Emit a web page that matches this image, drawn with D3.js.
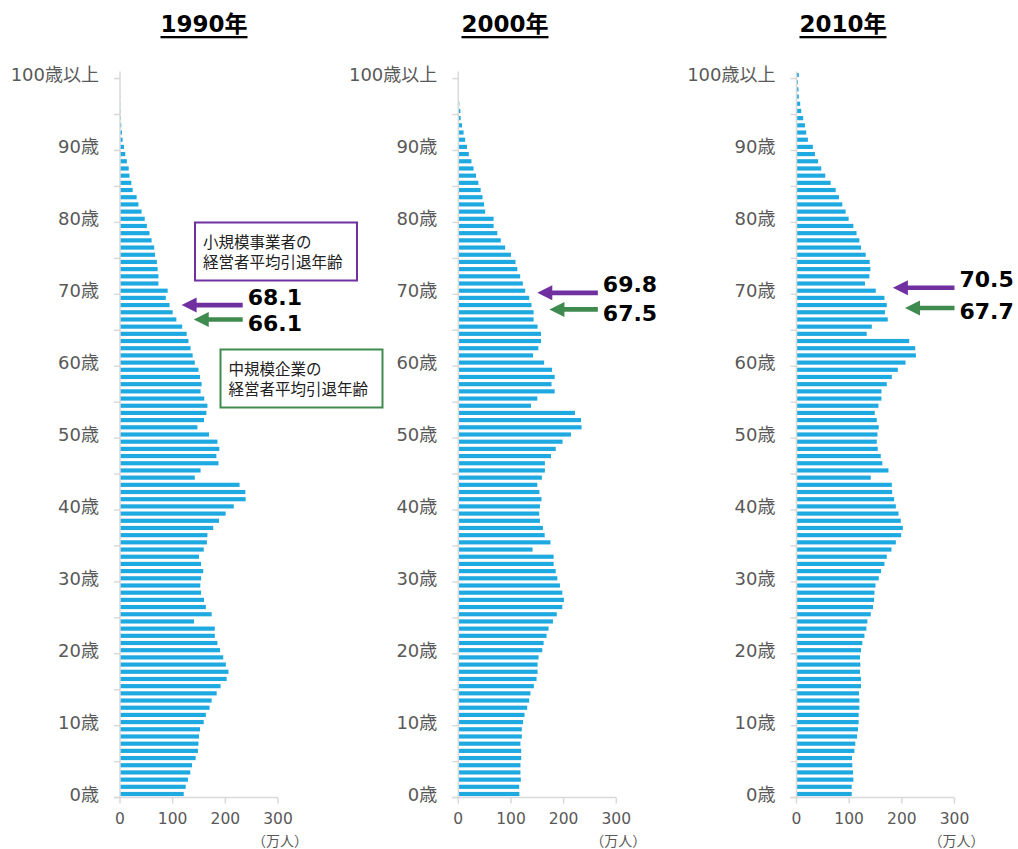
<!DOCTYPE html>
<html>
<head>
<meta charset="utf-8">
<script src="https://cdn.jsdelivr.net/npm/d3@7"></script>
<style>
  body { margin: 0; background: #fff; }
  text { font-family: "DejaVu Sans", "Noto Sans CJK JP", sans-serif; }
  .jp { font-family: "Noto Sans CJK JP", sans-serif; }
</style>
</head>
<body>
<div id="chart-container"></div>
<script>
// population by single year of age (0 .. 100+), unit: 10,000 people
const ages = d3.range(0, 101);

const pop1990 = [
  121, 124.7, 129, 133.5, 136.7, 143.7, 148, 149, 150, 152,
  159, 163, 170, 174, 183.5, 191, 202.5, 206, 201, 196,
  190, 185, 180, 180, 140.5, 174, 163, 159.5, 154, 152.5,
  154, 158, 154, 150, 159, 165, 166, 177, 188, 200.6,
  216, 238.6, 238, 227, 142, 153, 187, 183, 188.6, 185,
  169, 147, 159.5, 164, 166, 160, 153, 155, 152, 149,
  142, 138, 134, 130, 126.6, 118, 107, 100, 94, 87,
  90.5, 73, 73, 71.5, 70, 66.5, 65, 60, 56, 51,
  47, 41, 35, 31.6, 24, 21.5, 18, 16.5, 13, 10,
  7.6, 5, 3.8, 2.5, 1.5, 0.8, 0.5, 0.3, 0.2, 0.1,
  0.1
];

const pop2000 = [
  116, 115.6, 118.7, 118, 118, 119.4, 119.4, 118, 120.6, 120.6,
  123, 125.7, 130.8, 134.6, 137, 143.5, 148.6, 150.5, 150.5, 152.4,
  159.4, 162, 167.6, 171.4, 179.7, 187, 197.5, 200.6, 197.5, 193,
  188, 185, 181, 181, 141, 175, 164, 160.6, 155, 153.6,
  155, 158, 154, 150, 158.7, 164.4, 164.4, 176, 185, 198,
  214, 234, 233, 221.6, 138, 150, 183, 177, 183, 178,
  163, 142, 152, 157, 157, 150.5, 143, 143, 139, 134.6,
  127, 122.5, 117.5, 112, 108.6, 100, 89, 80.6, 74, 67,
  67, 51, 49, 46, 42.5, 38, 33.6, 29, 25, 20,
  16.5, 13, 10, 7, 4.5, 4, 2, 1, 0.6, 0.4,
  0.3
];

const pop2010 = [
  104.8, 104.8, 108, 107.3, 106, 105.4, 110, 111.7, 115, 116.8,
  118, 118, 119.4, 119.4, 118.7, 122.5, 122.5, 120.6, 121.3, 120.6,
  122.5, 125, 129, 132.7, 134.6, 141, 145.4, 147.3, 148, 150,
  156.2, 160.6, 167, 171.4, 180.3, 188.6, 198.7, 202, 198, 193.7,
  188.6, 185.4, 181.6, 181, 141, 174.6, 163, 160, 154.3, 152.4,
  153.7, 156.2, 152.4, 148.6, 155.6, 161.3, 161.3, 171.4, 181, 192.4,
  207, 226.7, 225.4, 214, 133.3, 143, 173.3, 168, 171.4, 167,
  150.5, 130, 138.4, 140.3, 139, 131.4, 122.5, 119.4, 114, 108,
  99, 93.3, 87, 80.6, 74.3, 64.8, 54.6, 47, 41, 35,
  31, 21.6, 18.4, 16, 12.7, 9, 7, 4.4, 3.8, 2.5,
  4.4
];

const years = ["1990年", "2000年", "2010年"];
const series = [pop1990, pop2000, pop2010];
// average retirement age of owners (small businesses / medium enterprises)
const smallRetire = [68.1, 69.8, 70.5];
const midRetire = [66.1, 67.5, 67.7];
const xTicks = [0, 100, 200, 300];
const ageLabelTicks = [0, 10, 20, 30, 40, 50, 60, 70, 80, 90, 100];

const W = 1018, H = 849;
const purple = "#7030a0", green = "#3f8b4f", barColor = "#1ea9e1";
const axisGray = "#d9d9d9", labelGray = "#595959";

const svg = d3.select("#chart-container").append("svg")
  .attr("width", W)
  .attr("height", H);

// panel layout
const panelX = [120, 458.3, 796.5];
const titleX = [204, 505, 843];
const plotW = 158;
const plotTop = 71.4, plotBottom = 797.6;
// arrow tip positions / shaft end, in x-axis units
const tipSmall = [117, 150, 183];
const tipMid = [140, 173, 206];
const arrowEnd = [233, 265, 300];

const yScale = d3.scaleBand()
  .domain(ages.slice().reverse())
  .range([plotTop, plotBottom])
  .paddingInner(0.42)
  .paddingOuter(0.21);

// continuous age axis for the retirement arrows
const ageScale = d3.scaleLinear().domain([-0.4, 100.6]).range([plotBottom, plotTop]);

function arrowPath(xt, xe, yc) {
  const hl = 15, hh = 7.5, sh = 2.3;
  return `M${xt},${yc} L${xt + hl},${yc - hh} L${xt + hl},${yc - sh} L${xe},${yc - sh}` +
    ` L${xe},${yc + sh} L${xt + hl},${yc + sh} L${xt + hl},${yc + hh} Z`;
}

series.forEach((values, p) => {
  const x0 = panelX[p];
  const xScale = d3.scaleLinear().domain([0, 300]).range([x0, x0 + plotW]);
  const g = svg.append("g");

  // title
  g.append("text")
    .attr("x", titleX[p])
    .attr("y", 24)
    .attr("text-anchor", "middle")
    .attr("dominant-baseline", "central")
    .style("font-size", "23px")
    .style("font-weight", "bold")
    .style("text-decoration", "underline")
    .attr("fill", "#000")
    .text(years[p]);

  // bars
  g.selectAll(".bar")
    .data(values)
    .enter()
    .append("rect")
    .attr("x", xScale(0))
    .attr("y", (d, i) => yScale(ages[i]))
    .attr("width", d => xScale(d) - xScale(0))
    .attr("height", yScale.bandwidth())
    .attr("fill", barColor);

  // y axis line + ticks every 5 years (at category boundaries)
  g.append("line")
    .attr("x1", x0).attr("x2", x0)
    .attr("y1", plotTop).attr("y2", plotBottom)
    .attr("stroke", axisGray).attr("stroke-width", 1.5);

  g.selectAll(".ytick")
    .data(ages.filter(a => a % 5 === 0))
    .enter()
    .append("line")
    .attr("x1", x0 - 6).attr("x2", x0)
    .attr("y1", a => yScale(a) - yScale.step() * yScale.paddingInner() / 2 + yScale.step())
    .attr("y2", a => yScale(a) - yScale.step() * yScale.paddingInner() / 2 + yScale.step())
    .attr("stroke", axisGray).attr("stroke-width", 1.5);

  g.selectAll(".ylabel")
    .data(ageLabelTicks)
    .enter()
    .append("text")
    .attr("x", x0 - 21)
    .attr("y", a => yScale(a) + yScale.bandwidth() / 2)
    .attr("text-anchor", "end")
    .attr("dominant-baseline", "central")
    .style("font-size", "18px")
    .attr("fill", labelGray)
    .text(a => a === 100 ? "100歳以上" : a + "歳");

  // x axis
  g.append("line")
    .attr("x1", x0 - 6).attr("x2", x0 + plotW)
    .attr("y1", plotBottom).attr("y2", plotBottom)
    .attr("stroke", axisGray).attr("stroke-width", 1.5);

  g.selectAll(".xtick")
    .data(xTicks)
    .enter()
    .append("line")
    .attr("x1", d => xScale(d)).attr("x2", d => xScale(d))
    .attr("y1", plotBottom).attr("y2", plotBottom + 6)
    .attr("stroke", axisGray).attr("stroke-width", 1.5);

  g.selectAll(".xlabel")
    .data(xTicks)
    .enter()
    .append("text")
    .attr("x", d => xScale(d))
    .attr("y", 819)
    .attr("text-anchor", "middle")
    .attr("dominant-baseline", "central")
    .style("font-size", "15.5px")
    .attr("fill", labelGray)
    .text(d => d);

  g.append("text")
    .attr("class", "jp")
    .attr("x", xScale(300) + 2)
    .attr("y", 840)
    .attr("text-anchor", "middle")
    .attr("dominant-baseline", "central")
    .style("font-size", "14px")
    .attr("fill", labelGray)
    .text("（万人）");

  // retirement age arrows
  const arrows = [
    { v: smallRetire[p], tip: tipSmall[p], color: purple, dy: -8 },
    { v: midRetire[p], tip: tipMid[p], color: green, dy: 4 }
  ];
  arrows.forEach(a => {
    const yc = ageScale(a.v);
    g.append("path")
      .attr("d", arrowPath(xScale(a.tip), xScale(arrowEnd[p]), yc))
      .attr("fill", a.color);
    g.append("text")
      .attr("x", xScale(arrowEnd[p]) + 5)
      .attr("y", yc + a.dy)
      .attr("dominant-baseline", "central")
      .style("font-size", "22px")
      .style("font-weight", "bold")
      .attr("fill", "#000")
      .text(a.v.toFixed(1));
  });
});

// legend boxes (first panel only)
function noteBox(x, y, w, h, color, lines) {
  svg.append("rect")
    .attr("x", x).attr("y", y)
    .attr("width", w).attr("height", h)
    .attr("fill", "#fff")
    .attr("stroke", color).attr("stroke-width", 2);
  lines.forEach((t, i) => {
    svg.append("text")
      .attr("class", "jp")
      .attr("x", x + 8)
      .attr("y", y + 18 + i * 20.5)
      .attr("dominant-baseline", "central")
      .style("font-size", "15.5px")
      .attr("fill", "#222")
      .text(t);
  });
}
noteBox(195, 222.5, 162, 58, purple, ["小規模事業者の", "経営者平均引退年齢"]);
noteBox(220.5, 349.5, 162, 58, green, ["中規模企業の", "経営者平均引退年齢"]);
</script>
</body>
</html>
